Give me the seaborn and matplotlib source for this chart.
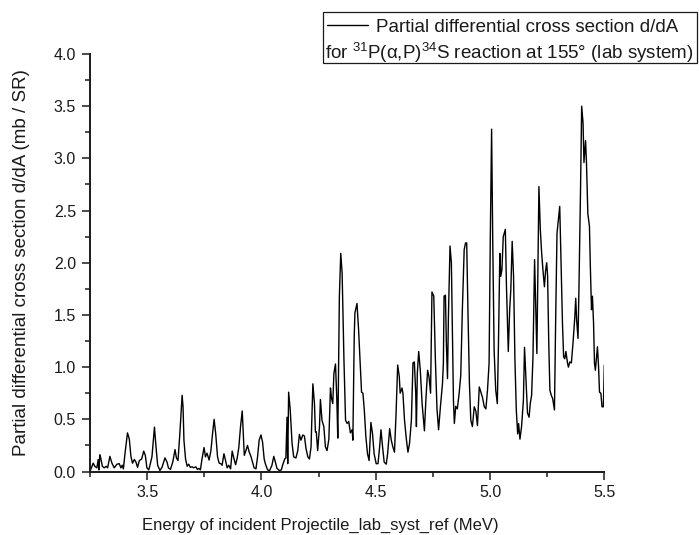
import matplotlib
matplotlib.use("Agg")
import matplotlib.pyplot as plt
from matplotlib.lines import Line2D
from matplotlib.patches import Rectangle
from matplotlib.ticker import MultipleLocator
import pandas as pd
import seaborn as sns

# Incident projectile energy (MeV)
energy = [
    3.250, 3.264, 3.271, 3.280, 3.286, 3.289, 3.293, 3.297, 3.304, 3.312,
    3.321, 3.327, 3.337, 3.346, 3.356, 3.368, 3.378, 3.385, 3.391, 3.396,
    3.403, 3.414, 3.422, 3.429, 3.436, 3.444, 3.451, 3.458, 3.466, 3.476,
    3.485, 3.492, 3.499, 3.507, 3.514, 3.521, 3.532, 3.539, 3.546, 3.556,
    3.565, 3.578, 3.587, 3.593, 3.602, 3.612, 3.622, 3.628, 3.635, 3.643,
    3.653, 3.657, 3.661, 3.668, 3.675, 3.682, 3.689, 3.697, 3.704, 3.713,
    3.720, 3.726, 3.733, 3.740, 3.749, 3.755, 3.762, 3.771, 3.779, 3.786,
    3.793, 3.800, 3.808, 3.815, 3.822, 3.828, 3.836, 3.843, 3.850, 3.857,
    3.865, 3.872, 3.879, 3.887, 3.894, 3.901, 3.909, 3.916, 3.920, 3.925,
    3.932, 3.939, 3.946, 3.954, 3.961, 3.968, 3.976, 3.983, 3.990, 3.998,
    4.005, 4.012, 4.017, 4.027, 4.036, 4.046, 4.054, 4.061, 4.068, 4.078,
    4.087, 4.094, 4.102, 4.107, 4.112, 4.115, 4.119, 4.126, 4.134, 4.141,
    4.151, 4.159, 4.166, 4.173, 4.181, 4.188, 4.195, 4.203, 4.210, 4.217,
    4.225, 4.232, 4.236, 4.240, 4.246, 4.254, 4.258, 4.265, 4.273, 4.280,
    4.287, 4.295, 4.302, 4.306, 4.312, 4.317, 4.324, 4.330, 4.334, 4.341,
    4.347, 4.353, 4.361, 4.368, 4.375, 4.382, 4.389, 4.397, 4.400, 4.406,
    4.409, 4.418, 4.425, 4.432, 4.438, 4.444, 4.450, 4.457, 4.464, 4.471,
    4.479, 4.486, 4.493, 4.502, 4.510, 4.517, 4.523, 4.530, 4.537, 4.546,
    4.552, 4.561, 4.568, 4.575, 4.582, 4.589, 4.596, 4.603, 4.607, 4.615,
    4.619, 4.626, 4.634, 4.641, 4.648, 4.656, 4.663, 4.669, 4.675, 4.678,
    4.682, 4.688, 4.695, 4.703, 4.713, 4.720, 4.727, 4.733, 4.740, 4.746,
    4.754, 4.761, 4.768, 4.775, 4.783, 4.792, 4.796, 4.799, 4.805, 4.809,
    4.814, 4.818, 4.825, 4.831, 4.836, 4.840, 4.844, 4.850, 4.857, 4.865,
    4.872, 4.879, 4.887, 4.893, 4.898, 4.904, 4.910, 4.916, 4.923, 4.931,
    4.938, 4.945, 4.953, 4.960, 4.967, 4.975, 4.982, 4.989, 4.996, 5.001,
    5.007, 5.012, 5.018, 5.025, 5.032, 5.037, 5.043, 5.047, 5.052, 5.058,
    5.067, 5.072, 5.080, 5.086, 5.091, 5.097, 5.103, 5.109, 5.115, 5.121,
    5.125, 5.131, 5.138, 5.146, 5.151, 5.158, 5.164, 5.171, 5.176, 5.182,
    5.188, 5.195, 5.200, 5.205, 5.210, 5.214, 5.220, 5.226, 5.232, 5.238,
    5.243, 5.248, 5.252, 5.257, 5.262, 5.268, 5.274, 5.282, 5.287, 5.293,
    5.299, 5.305, 5.311, 5.317, 5.322, 5.327, 5.332, 5.339, 5.343, 5.349,
    5.356, 5.363, 5.371, 5.375, 5.379, 5.385, 5.389, 5.396, 5.401, 5.407,
    5.411, 5.418, 5.422, 5.428, 5.435, 5.439, 5.444, 5.448, 5.453, 5.457,
    5.461, 5.466, 5.470, 5.475, 5.479, 5.485, 5.490, 5.496, 5.500,
]

# Partial differential cross section d/dA (mb / SR)
cross_section = [
    0.00, 0.08, 0.05, 0.035, 0.115, 0.015, 0.16, 0.13, 0.05, 0.035,
    0.05, 0.035, 0.145, 0.08, 0.035, 0.07, 0.075, 0.035, 0.06, 0.025,
    0.17, 0.37, 0.31, 0.145, 0.08, 0.115, 0.09, 0.04, 0.105, 0.12,
    0.195, 0.155, 0.035, 0.015, 0.075, 0.14, 0.425, 0.23, 0.06, 0.01,
    0.04, 0.13, 0.09, 0.035, 0.02, 0.09, 0.21, 0.13, 0.105, 0.36,
    0.73, 0.62, 0.30, 0.12, 0.05, 0.07, 0.04, 0.045, 0.035, 0.045,
    0.02, 0.03, 0.015, 0.12, 0.23, 0.14, 0.175, 0.11, 0.20, 0.36,
    0.50, 0.36, 0.14, 0.08, 0.075, 0.06, 0.17, 0.105, 0.035, 0.06,
    0.025, 0.195, 0.13, 0.065, 0.13, 0.23, 0.44, 0.58, 0.39, 0.155,
    0.20, 0.25, 0.19, 0.145, 0.09, 0.035, 0.025, 0.14, 0.30, 0.35,
    0.28, 0.12, 0.075, 0.015, 0.01, 0.06, 0.145, 0.09, 0.03, 0.01,
    0.015, 0.07, 0.12, 0.13, 0.52, 0.075, 0.76, 0.59, 0.27, 0.14,
    0.13, 0.20, 0.355, 0.30, 0.35, 0.34, 0.22, 0.14, 0.12, 0.235,
    0.84, 0.65, 0.38, 0.38, 0.20, 0.43, 0.69, 0.49, 0.43, 0.235,
    0.20, 0.31, 0.80, 0.71, 0.65, 0.94, 1.03, 0.68, 0.32, 1.68,
    2.09, 1.90, 1.07, 0.49, 0.46, 0.48, 0.37, 0.40, 0.30, 1.30,
    1.52, 1.61, 1.36, 1.04, 0.76, 0.75, 0.59, 0.33, 0.17, 0.105,
    0.47, 0.36, 0.17, 0.075, 0.075, 0.235, 0.40, 0.235, 0.09, 0.07,
    0.17, 0.41, 0.30, 0.235, 0.185, 0.555, 1.02, 0.91, 0.75, 0.80,
    0.75, 0.49, 0.31, 0.185, 0.27, 0.49, 1.04, 1.05, 0.75, 0.43,
    0.94, 1.15, 0.97, 0.65, 0.39, 0.71, 0.97, 0.91, 0.75, 1.72,
    1.68, 1.07, 0.60, 0.40, 0.62, 0.84, 1.04, 1.68, 1.69, 1.23,
    0.89, 1.48, 2.16, 2.00, 1.23, 0.68, 0.46, 0.625, 0.60, 0.75,
    0.92, 1.55, 2.125, 2.19, 2.19, 1.48, 0.84, 0.49, 0.43, 0.62,
    0.58, 0.44, 0.81, 0.76, 0.71, 0.62, 0.60, 0.78, 1.04, 2.19,
    3.28, 2.19, 1.16, 0.78, 0.65, 1.23, 2.09, 1.87, 1.93, 2.25,
    2.32, 1.77, 1.15, 1.55, 1.74, 2.205, 1.87, 1.07, 0.59, 0.36,
    0.46, 0.31, 0.43, 0.68, 1.19, 0.85, 0.56, 0.52, 0.65, 0.73,
    1.10, 2.03, 1.58, 1.13, 2.06, 2.73, 2.32, 2.09, 1.92, 1.77,
    1.92, 2.00, 1.87, 1.23, 0.78, 0.73, 0.70, 0.59, 1.42, 2.28,
    2.41, 2.54, 2.00, 1.42, 1.10, 1.08, 1.15, 1.04, 1.00, 1.05,
    1.04, 1.23, 1.48, 1.66, 1.45, 1.275, 1.74, 2.70, 3.50, 3.34,
    2.96, 3.17, 2.96, 2.47, 2.35, 1.96, 1.55, 1.68, 1.42, 1.04,
    0.97, 1.10, 1.195, 1.00, 0.76, 0.75, 0.62, 0.62, 1.02,
]

x_label = "Energy of incident Projectile_lab_syst_ref (MeV)"
y_label = "Partial differential cross section d/dA (mb / SR)"
legend_line1 = "Partial differential cross section d/dA"
legend_line2 = "for $^{31}$P(α,P)$^{34}$S reaction at 155° (lab system)"
x_ticks = [3.5, 4.0, 4.5, 5.0, 5.5]
y_ticks = [0.0, 0.5, 1.0, 1.5, 2.0, 2.5, 3.0, 3.5, 4.0]

sns.set_style("ticks")
plt.rcParams["font.family"] = ["Liberation Sans", "DejaVu Sans"]
plt.rcParams["mathtext.fontset"] = "custom"
plt.rcParams["mathtext.rm"] = "Liberation Sans"
plt.rcParams["mathtext.it"] = "Liberation Sans:italic"
plt.rcParams["mathtext.bf"] = "Liberation Sans:bold"

INK = "#1a1a1a"
W, H = 699, 535
fig = plt.figure(figsize=(W / 100, H / 100), dpi=100)
ax = fig.add_axes([90 / W, 1 - 471.5 / H, 514.3 / W, 417.5 / H])

df = pd.DataFrame({"energy": energy, "xs": cross_section})
sns.lineplot(data=df, x="energy", y="xs", ax=ax, color="black",
             linewidth=1.0, estimator=None, sort=False)

ax.set_xlim(3.25, 5.5)
ax.set_ylim(0, 4.0)
ax.set_xticks(x_ticks)
ax.set_yticks(y_ticks)
ax.set_xticklabels([f"{t:.1f}" for t in x_ticks])
ax.set_yticklabels([f"{t:.1f}" for t in y_ticks])
ax.xaxis.set_minor_locator(MultipleLocator(0.25))
ax.yaxis.set_minor_locator(MultipleLocator(0.25))

for side in ("top", "right"):
    ax.spines[side].set_visible(False)
for side in ("left", "bottom"):
    ax.spines[side].set_linewidth(1.4)
    ax.spines[side].set_color(INK)

ax.tick_params(which="major", direction="out", length=6, width=1.1,
               labelsize=11.5, pad=4, color=INK, labelcolor=INK)
ax.tick_params(which="minor", direction="out", length=3.5, width=1.1,
               color=INK)

ax.set_xlabel(x_label, fontsize=12, color=INK)
ax.set_ylabel(y_label, fontsize=13.5, color=INK)
ax.xaxis.set_label_coords(0.447, -0.11)
ax.yaxis.set_label_coords(-0.117, 0.5)

# Legend box drawn in figure pixel coordinates
px = lambda x: x / W
py = lambda y: 1 - y / H
fig.patches.append(Rectangle((px(322.7), py(63)), px(697) - px(322.7),
                             py(11.7) - py(63), transform=fig.transFigure,
                             fill=False, edgecolor=INK, linewidth=0.9))
line = ax.get_lines()[0]
fig.lines.append(Line2D([px(326.7), px(368.3)], [py(25), py(25)],
                        transform=fig.transFigure, color=line.get_color(),
                        linewidth=line.get_linewidth()))
fig.text(px(376), py(31.7), legend_line1, fontsize=13.5, va="baseline",
         ha="left", color=INK)
fig.text(px(325), py(59.3), legend_line2, fontsize=13.5, va="baseline",
         ha="left", color=INK)

fig.savefig("out.png", dpi=100)
